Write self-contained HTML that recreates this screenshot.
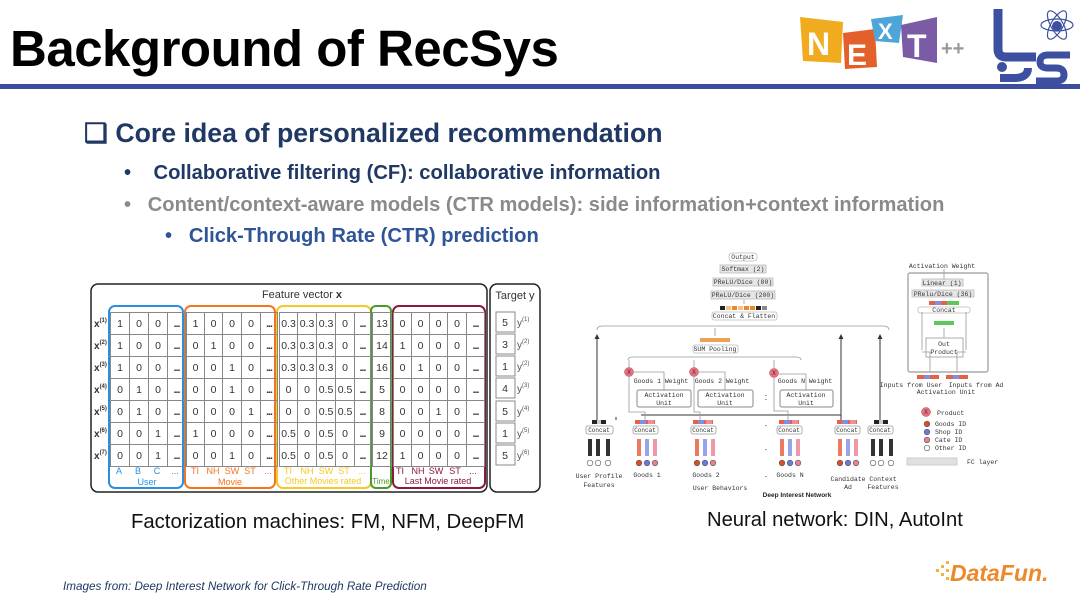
<!DOCTYPE html>
<html><head><meta charset="utf-8"><style>
*{margin:0;padding:0;box-sizing:border-box}
body{width:1080px;height:608px;background:#fff;position:relative;overflow:hidden;font-family:"Liberation Sans",sans-serif}
.a{position:absolute;white-space:nowrap}
table{position:absolute;left:110px;top:312px;border-collapse:collapse}
td{height:22px;font-size:10.5px;text-align:center;color:#333;border:1px solid #888;padding:0;line-height:20px}
td.g{border:none}
.d{font-weight:bold;letter-spacing:-1px}
</style></head><body>
<div class="a" style="left:10px;top:19px;font-size:51px;font-weight:bold;color:#000;letter-spacing:-0.5px">Background of RecSys</div>
<div class="a" style="left:0;top:84px;width:1080px;height:5px;background:#3b4d9c"></div>

<!-- NEXT logo -->
<svg class="a" style="left:795px;top:5px" width="285" height="80">
<polygon points="5,12 48,17 46,58 8,56" fill="#f0ac1e"/>
<text x="12" y="50" font-size="32" font-weight="bold" fill="#fff" font-family="Liberation Sans">N</text>
<polygon points="48,28 80,24 82,62 50,64" fill="#e4602a"/>
<text x="52" y="60" font-size="30" font-weight="bold" fill="#fff" font-family="Liberation Sans">E</text>
<polygon points="76,14 108,10 104,38 80,36" fill="#4ea6d8"/>
<text x="83" y="34" font-size="22" font-weight="bold" fill="#fff" font-family="Liberation Sans">X</text>
<polygon points="106,20 142,12 142,58 108,52" fill="#7b5ba6"/>
<text x="112" y="52" font-size="32" font-weight="bold" fill="#fff" font-family="Liberation Sans">T</text>
<text x="146" y="50" font-size="20" font-weight="bold" fill="#999" font-family="Liberation Sans">++</text>
<path d="M203 4 v40 q0 8 8 8 h30" stroke="#3c4fa0" stroke-width="9" fill="none"/>
<circle cx="207" cy="62" r="5" fill="#3c4fa0"/>
<path d="M205 73 h14 q14 0 14 -10" stroke="#3c4fa0" stroke-width="8" fill="none"/>
<path d="M275 50 h-22 q-8 0 -8 7 q0 6 8 6 h8 q8 0 8 7 q0 6 -8 6 h-20" stroke="#3c4fa0" stroke-width="7" fill="none"/>
<ellipse cx="262" cy="20" rx="16" ry="6" stroke="#3c4fa0" fill="none" stroke-width="1.2"/>
<ellipse cx="262" cy="20" rx="16" ry="6" stroke="#3c4fa0" fill="none" stroke-width="1.2" transform="rotate(60 262 20)"/>
<ellipse cx="262" cy="20" rx="16" ry="6" stroke="#3c4fa0" fill="none" stroke-width="1.2" transform="rotate(-60 262 20)"/>
<circle cx="262" cy="21" r="5" fill="#3c4fa0"/>
</svg>

<div class="a" style="left:84px;top:118px;font-size:26.7px;font-weight:bold;color:#203864">❑ Core idea of personalized recommendation</div>
<div class="a" style="left:124px;top:162px;font-size:20.2px;font-weight:bold;color:#203864">•&nbsp;&nbsp;&nbsp;&nbsp;Collaborative filtering (CF): collaborative information</div>
<div class="a" style="left:124px;top:194px;font-size:20.1px;font-weight:bold;color:#8a8a8a">•&nbsp;&nbsp;&nbsp;Content/context-aware models (CTR models): side information+context information</div>
<div class="a" style="left:165px;top:225px;font-size:20.2px;font-weight:bold;color:#2f5597">•&nbsp;&nbsp;&nbsp;Click-Through Rate (CTR) prediction</div>

<!-- FM table -->
<svg class="a" style="left:0;top:0" width="560" height="500">
<rect x="91" y="284" width="396" height="208" rx="7" fill="none" stroke="#222" stroke-width="1.5"/>
<rect x="490" y="284" width="50" height="208" rx="7" fill="none" stroke="#222" stroke-width="1.5"/>
<rect x="109" y="306" width="74" height="182" rx="6" fill="none" stroke="#2a8fe0" stroke-width="2"/>
<rect x="185" y="306" width="90" height="182" rx="6" fill="none" stroke="#f5741e" stroke-width="2"/>
<rect x="277" y="306" width="94" height="182" rx="6" fill="none" stroke="#f7c924" stroke-width="2"/>
<rect x="371" y="306" width="20" height="182" rx="5" fill="none" stroke="#4a9a2a" stroke-width="2"/>
<rect x="393" y="306" width="92" height="182" rx="6" fill="none" stroke="#8a1a3a" stroke-width="2"/>
<text x="302" y="298" font-size="11" text-anchor="middle" fill="#333" font-family="Liberation Sans">Feature vector <tspan font-weight="bold">x</tspan></text>
<text x="515" y="299" font-size="11" text-anchor="middle" fill="#333" font-family="Liberation Sans">Target y</text>
<g font-size="10" font-weight="bold" fill="#333" font-family="Liberation Sans">
<text x="94" y="327">x<tspan font-size="6" dy="-5">(1)</tspan></text>
<text x="94" y="349">x<tspan font-size="6" dy="-5">(2)</tspan></text>
<text x="94" y="371">x<tspan font-size="6" dy="-5">(3)</tspan></text>
<text x="94" y="393">x<tspan font-size="6" dy="-5">(4)</tspan></text>
<text x="94" y="415">x<tspan font-size="6" dy="-5">(5)</tspan></text>
<text x="94" y="437">x<tspan font-size="6" dy="-5">(6)</tspan></text>
<text x="94" y="459">x<tspan font-size="6" dy="-5">(7)</tspan></text>
</g>
<g font-size="10.5" fill="#333" font-family="Liberation Sans" text-anchor="middle">
<rect x="496" y="312" width="19" height="20" fill="none" stroke="#888"/><text x="505" y="326">5</text>
<rect x="496" y="334" width="19" height="20" fill="none" stroke="#888"/><text x="505" y="348">3</text>
<rect x="496" y="356" width="19" height="20" fill="none" stroke="#888"/><text x="505" y="370">1</text>
<rect x="496" y="378" width="19" height="20" fill="none" stroke="#888"/><text x="505" y="392">4</text>
<rect x="496" y="401" width="19" height="20" fill="none" stroke="#888"/><text x="505" y="415">5</text>
<rect x="496" y="423" width="19" height="20" fill="none" stroke="#888"/><text x="505" y="437">1</text>
<rect x="496" y="445" width="19" height="20" fill="none" stroke="#888"/><text x="505" y="459">5</text>
</g>
<g font-size="10" fill="#555" font-family="Liberation Sans">
<text x="517" y="326">y<tspan font-size="6" dy="-5">(1)</tspan></text>
<text x="517" y="348">y<tspan font-size="6" dy="-5">(2)</tspan></text>
<text x="517" y="370">y<tspan font-size="6" dy="-5">(2)</tspan></text>
<text x="517" y="392">y<tspan font-size="6" dy="-5">(3)</tspan></text>
<text x="517" y="415">y<tspan font-size="6" dy="-5">(4)</tspan></text>
<text x="517" y="437">y<tspan font-size="6" dy="-5">(5)</tspan></text>
<text x="517" y="459">y<tspan font-size="6" dy="-5">(6)</tspan></text>
</g>
<g font-size="9" font-family="Liberation Sans" text-anchor="middle">
<g fill="#2a8fe0"><text x="119" y="474">A</text><text x="138" y="474">B</text><text x="157" y="474">C</text><text x="175" y="474">...</text><text x="147" y="485">User</text></g>
<g fill="#f5741e"><text x="195" y="474">TI</text><text x="213" y="474">NH</text><text x="232" y="474">SW</text><text x="250" y="474">ST</text><text x="268" y="474">...</text><text x="230" y="485">Movie</text></g>
<g fill="#f7c924"><text x="288" y="474">TI</text><text x="307" y="474">NH</text><text x="326" y="474">SW</text><text x="344" y="474">ST</text><text x="362" y="474">...</text><text x="323" y="484">Other Movies rated</text></g>
<g fill="#4a9a2a"><text x="381" y="484" font-size="8">Time</text></g>
<g fill="#8a1a3a"><text x="400" y="474">TI</text><text x="418" y="474">NH</text><text x="436" y="474">SW</text><text x="455" y="474">ST</text><text x="473" y="474">...</text><text x="438" y="484">Last Movie rated</text></g>
</g>
</svg>
<table>
<colgroup><col width="19"><col width="19"><col width="19"><col width="18"><col width="1"><col width="18"><col width="18"><col width="19"><col width="19"><col width="17"><col width="2"><col width="18"><col width="19"><col width="19"><col width="19"><col width="16"><col width="2"><col width="19"><col width="2"><col width="18"><col width="18"><col width="18"><col width="19"><col width="18"></colgroup>
<tr><td>1</td><td>0</td><td>0</td><td class="d">...</td><td class="g"></td><td>1</td><td>0</td><td>0</td><td>0</td><td class="d">...</td><td class="g"></td><td>0.3</td><td>0.3</td><td>0.3</td><td>0</td><td class="d">...</td><td class="g"></td><td>13</td><td class="g"></td><td>0</td><td>0</td><td>0</td><td>0</td><td class="d">...</td></tr>
<tr><td>1</td><td>0</td><td>0</td><td class="d">...</td><td class="g"></td><td>0</td><td>1</td><td>0</td><td>0</td><td class="d">...</td><td class="g"></td><td>0.3</td><td>0.3</td><td>0.3</td><td>0</td><td class="d">...</td><td class="g"></td><td>14</td><td class="g"></td><td>1</td><td>0</td><td>0</td><td>0</td><td class="d">...</td></tr>
<tr><td>1</td><td>0</td><td>0</td><td class="d">...</td><td class="g"></td><td>0</td><td>0</td><td>1</td><td>0</td><td class="d">...</td><td class="g"></td><td>0.3</td><td>0.3</td><td>0.3</td><td>0</td><td class="d">...</td><td class="g"></td><td>16</td><td class="g"></td><td>0</td><td>1</td><td>0</td><td>0</td><td class="d">...</td></tr>
<tr><td>0</td><td>1</td><td>0</td><td class="d">...</td><td class="g"></td><td>0</td><td>0</td><td>1</td><td>0</td><td class="d">...</td><td class="g"></td><td>0</td><td>0</td><td>0.5</td><td>0.5</td><td class="d">...</td><td class="g"></td><td>5</td><td class="g"></td><td>0</td><td>0</td><td>0</td><td>0</td><td class="d">...</td></tr>
<tr><td>0</td><td>1</td><td>0</td><td class="d">...</td><td class="g"></td><td>0</td><td>0</td><td>0</td><td>1</td><td class="d">...</td><td class="g"></td><td>0</td><td>0</td><td>0.5</td><td>0.5</td><td class="d">...</td><td class="g"></td><td>8</td><td class="g"></td><td>0</td><td>0</td><td>1</td><td>0</td><td class="d">...</td></tr>
<tr><td>0</td><td>0</td><td>1</td><td class="d">...</td><td class="g"></td><td>1</td><td>0</td><td>0</td><td>0</td><td class="d">...</td><td class="g"></td><td>0.5</td><td>0</td><td>0.5</td><td>0</td><td class="d">...</td><td class="g"></td><td>9</td><td class="g"></td><td>0</td><td>0</td><td>0</td><td>0</td><td class="d">...</td></tr>
<tr><td>0</td><td>0</td><td>1</td><td class="d">...</td><td class="g"></td><td>0</td><td>0</td><td>1</td><td>0</td><td class="d">...</td><td class="g"></td><td>0.5</td><td>0</td><td>0.5</td><td>0</td><td class="d">...</td><td class="g"></td><td>12</td><td class="g"></td><td>1</td><td>0</td><td>0</td><td>0</td><td class="d">...</td></tr>
</table>

<!-- DIN -->
<svg class="a" style="left:0;top:0" width="1080" height="608" font-family="Liberation Mono,monospace">
<g fill="#e6e6e6" stroke="#bbb" stroke-width="0.8">
<rect x="729" y="253" width="28" height="8" rx="3" fill="#fff"/>
<rect x="720" y="265" width="46" height="8"/>
<rect x="713" y="278" width="60" height="8"/>
<rect x="711" y="291" width="64" height="8"/>
<rect x="712" y="312" width="65" height="8" rx="2" fill="#fff"/>
<rect x="693" y="345" width="45" height="8" rx="2" fill="#fff"/>
</g>
<g font-size="6.5" fill="#333" text-anchor="middle">
<text x="743" y="259">Output</text><text x="743" y="271">Softmax (2)</text><text x="743" y="284">PReLU/Dice (80)</text><text x="743" y="297">PReLU/Dice (200)</text><text x="744" y="318">Concat &amp; Flatten</text><text x="715" y="351">SUM Pooling</text>
</g>
<g><rect x="720" y="306" width="5" height="4" fill="#222"/><rect x="726" y="306" width="5" height="4" fill="#f4c08a"/><rect x="732" y="306" width="5" height="4" fill="#e88a2a"/><rect x="738" y="306" width="5" height="4" fill="#f4c08a"/><rect x="744" y="306" width="5" height="4" fill="#e88a2a"/><rect x="750" y="306" width="5" height="4" fill="#e88a2a"/><rect x="756" y="306" width="5" height="4" fill="#222"/><rect x="762" y="306" width="5" height="4" fill="#888"/>
<rect x="700" y="338" width="30" height="4" fill="#e88a2a" opacity="0.8"/></g>
<g stroke="#999" fill="none" stroke-width="0.8">
<path d="M597 330 q0 -4 6 -4 h280 q6 0 6 4"/>
<path d="M628 360 q0 -3 5 -3 h163 q5 0 5 3"/>
<path d="M715 336 v-8"/><path d="M744 304 v-4"/>
</g>
<g stroke="#333" stroke-width="1" fill="none">
<path d="M597 420 v-82"/><path d="M841 420 v-82"/><path d="M880 420 v-82"/>
<path d="M641 415 h200"/><path d="M616 420 v-3"/>
</g>
<g fill="#333"><path d="M594.5 339 l2.5 -5 l2.5 5z"/><path d="M838.5 339 l2.5 -5 l2.5 5z"/><path d="M877.5 339 l2.5 -5 l2.5 5z"/></g>
<g stroke="#999" stroke-width="0.8" fill="none">
<path d="M629 367 v-7"/><path d="M694 367 v-7"/><path d="M774 368 v-8"/>
<path d="M629 377 v35 h16 v8"/><path d="M694 377 v35 h6 v8"/><path d="M774 378 v33 h14 v9"/>
<path d="M664 407 v-8"/><path d="M725 407 v-8"/><path d="M806 407 v-8"/>
<path d="M664 390 v-18 h-30"/><path d="M725 390 v-18 h-26"/><path d="M806 390 v-16 h-27"/>
</g>
<g fill="#e87080" stroke="#c04050" stroke-width="0.5">
<circle cx="629" cy="372" r="4.5"/><circle cx="694" cy="372" r="4.5"/><circle cx="774" cy="373" r="4.5"/>
<circle cx="926" cy="412" r="4.5"/></g>
<g font-size="6" fill="#333" text-anchor="middle"><text x="629" y="374">X</text><text x="694" y="374">X</text><text x="774" y="375">X</text><text x="926" y="414">X</text></g>
<g fill="#fff" stroke="#888" stroke-width="1">
<rect x="637" y="390" width="54" height="17" rx="2"/><rect x="698" y="390" width="55" height="17" rx="2"/><rect x="780" y="390" width="53" height="17" rx="2"/>
</g>
<g font-size="6.5" fill="#333" text-anchor="middle">
<text x="661" y="383">Goods 1 Weight</text><text x="722" y="383">Goods 2 Weight</text><text x="805" y="383">Goods N Weight</text>
<text x="664" y="397">Activation</text><text x="664" y="405">Unit</text>
<text x="725" y="397">Activation</text><text x="725" y="405">Unit</text>
<text x="806" y="397">Activation</text><text x="806" y="405">Unit</text>
<text x="766" y="401">-</text><text x="766" y="397">-</text>
</g>
<g fill="#fff" stroke="#999" stroke-width="0.8">
<rect x="586" y="426" width="27" height="8" rx="2"/><rect x="633" y="426" width="25" height="8" rx="2"/><rect x="691" y="426" width="25" height="8" rx="2"/><rect x="777" y="426" width="25" height="8" rx="2"/><rect x="835" y="426" width="25" height="8" rx="2"/><rect x="868" y="426" width="25" height="8" rx="2"/>
</g>
<g font-size="6" fill="#333" text-anchor="middle">
<text x="599" y="432">Concat</text><text x="645" y="432">Concat</text><text x="703" y="432">Concat</text><text x="789" y="432">Concat</text><text x="847" y="432">Concat</text><text x="880" y="432">Concat</text>
</g>
<g>
<rect x="592" y="420" width="14" height="4" fill="#222"/><rect x="597" y="420" width="4" height="4" fill="#ccc"/>
<rect x="635" y="420" width="20" height="4" fill="#e6604a"/><rect x="640" y="420" width="6" height="4" fill="#8090e0"/><rect x="648" y="420" width="6" height="4" fill="#e890a0"/>
<rect x="693" y="420" width="20" height="4" fill="#e6604a"/><rect x="698" y="420" width="6" height="4" fill="#8090e0"/><rect x="706" y="420" width="6" height="4" fill="#e890a0"/>
<rect x="779" y="420" width="20" height="4" fill="#e6604a"/><rect x="784" y="420" width="6" height="4" fill="#8090e0"/><rect x="792" y="420" width="6" height="4" fill="#e890a0"/>
<rect x="837" y="420" width="20" height="4" fill="#e6604a"/><rect x="842" y="420" width="6" height="4" fill="#8090e0"/><rect x="850" y="420" width="6" height="4" fill="#e890a0"/>
<rect x="874" y="420" width="14" height="4" fill="#222"/><rect x="879" y="420" width="4" height="4" fill="#ccc"/>
</g>
<g>
<rect x="588" y="439" width="4" height="17" fill="#333"/><rect x="596" y="439" width="4" height="17" fill="#333"/><rect x="606" y="439" width="4" height="17" fill="#333"/>
<rect x="637" y="439" width="4" height="17" fill="#ec7a60"/><rect x="645" y="439" width="4" height="17" fill="#98a4ea"/><rect x="653" y="439" width="4" height="17" fill="#ee98a8"/>
<rect x="695" y="439" width="4" height="17" fill="#ec7a60"/><rect x="703" y="439" width="4" height="17" fill="#98a4ea"/><rect x="711" y="439" width="4" height="17" fill="#ee98a8"/>
<rect x="780" y="439" width="4" height="17" fill="#ec7a60"/><rect x="788" y="439" width="4" height="17" fill="#98a4ea"/><rect x="796" y="439" width="4" height="17" fill="#ee98a8"/>
<rect x="838" y="439" width="4" height="17" fill="#ec7a60"/><rect x="846" y="439" width="4" height="17" fill="#98a4ea"/><rect x="854" y="439" width="4" height="17" fill="#ee98a8"/>
<rect x="871" y="439" width="4" height="17" fill="#333"/><rect x="879" y="439" width="4" height="17" fill="#333"/><rect x="889" y="439" width="4" height="17" fill="#333"/>
</g>
<g stroke="#555" stroke-width="0.6">
<circle cx="590" cy="463" r="2.8" fill="#fff"/><circle cx="598" cy="463" r="2.8" fill="#fff"/><circle cx="608" cy="463" r="2.8" fill="#fff"/>
<circle cx="639" cy="463" r="2.8" fill="#e24a2a"/><circle cx="647" cy="463" r="2.8" fill="#6a7ae0"/><circle cx="655" cy="463" r="2.8" fill="#e8809a"/>
<circle cx="697" cy="463" r="2.8" fill="#e24a2a"/><circle cx="705" cy="463" r="2.8" fill="#6a7ae0"/><circle cx="713" cy="463" r="2.8" fill="#e8809a"/>
<circle cx="782" cy="463" r="2.8" fill="#e24a2a"/><circle cx="790" cy="463" r="2.8" fill="#6a7ae0"/><circle cx="798" cy="463" r="2.8" fill="#e8809a"/>
<circle cx="840" cy="463" r="2.8" fill="#e24a2a"/><circle cx="848" cy="463" r="2.8" fill="#6a7ae0"/><circle cx="856" cy="463" r="2.8" fill="#e8809a"/>
<circle cx="873" cy="463" r="2.8" fill="#fff"/><circle cx="881" cy="463" r="2.8" fill="#fff"/><circle cx="891" cy="463" r="2.8" fill="#fff"/>
</g>
<g font-size="6.5" fill="#333" text-anchor="middle">
<text x="599" y="478">User Profile</text><text x="599" y="487">Features</text>
<text x="647" y="477">Goods 1</text><text x="706" y="477">Goods 2</text><text x="790" y="477">Goods N</text>
<text x="720" y="490">User Behaviors</text>
<text x="848" y="481">Candidate</text><text x="848" y="489">Ad</text>
<text x="883" y="481">Context</text><text x="883" y="489">Features</text>
<text x="766" y="478">-</text><text x="766" y="451">-</text><text x="766" y="427">-</text>
</g>
<text x="797" y="497" font-size="6.5" font-weight="bold" fill="#222" text-anchor="middle" font-family="Liberation Sans">Deep Interest Network</text>
<rect x="908" y="273" width="80" height="99" rx="2" fill="none" stroke="#999" stroke-width="1.2"/>
<g fill="#e6e6e6" stroke="#bbb" stroke-width="0.8"><rect x="922" y="279" width="41" height="7"/><rect x="912" y="290" width="62" height="7"/>
<rect x="918" y="307" width="52" height="6" rx="2" fill="#fff"/><rect x="926" y="338" width="37" height="19" fill="#fff" stroke="#999"/></g>
<rect x="929" y="301" width="30" height="4" fill="#e6604a"/><rect x="935" y="301" width="6" height="4" fill="#8090e0"/><rect x="947" y="301" width="12" height="4" fill="#5ac85a"/>
<rect x="934" y="321" width="20" height="4" fill="#5ac85a"/>
<rect x="917" y="375" width="22" height="4" fill="#e6604a"/><rect x="924" y="375" width="6" height="4" fill="#8090e0"/>
<rect x="946" y="375" width="22" height="4" fill="#e6604a"/><rect x="953" y="375" width="6" height="4" fill="#8090e0"/>
<g stroke="#999" fill="none" stroke-width="0.8"><path d="M922 350 v-38"/><path d="M966 350 v-38"/><path d="M944 338 v-10"/><path d="M930 372 v-20 h-8"/><path d="M957 372 v-20 h9"/><path d="M944 279 v-10"/></g>
<g font-size="6.5" fill="#333" text-anchor="middle">
<text x="942" y="268">Activation Weight</text><text x="942" y="285">Linear (1)</text><text x="943" y="296">PRelu/Dice (36)</text><text x="944" y="312">Concat</text>
<text x="944" y="346">Out</text><text x="944" y="354">Product</text>
<text x="911" y="387">Inputs from User</text><text x="976" y="387">Inputs from Ad</text><text x="946" y="394">Activation Unit</text>
</g>
<g stroke="#555" stroke-width="0.6"><circle cx="927" cy="424" r="2.8" fill="#e24a2a"/><circle cx="927" cy="432" r="2.8" fill="#6a7ae0"/><circle cx="927" cy="440" r="2.8" fill="#e8809a"/><circle cx="927" cy="448" r="2.8" fill="#fff"/></g>
<rect x="907" y="458" width="50" height="7" fill="#e0e0e0" stroke="#ccc"/>
<g font-size="6.5" fill="#333"><text x="937" y="415">Product</text><text x="935" y="426">Goods ID</text><text x="935" y="434">Shop ID</text><text x="935" y="442">Cate ID</text><text x="935" y="450">Other ID</text><text x="967" y="464">FC layer</text></g>
</svg>

<div class="a" style="left:131px;top:511px;font-size:20.3px;color:#111">Factorization machines: FM, NFM, DeepFM</div>
<div class="a" style="left:707px;top:509px;font-size:20.2px;color:#111">Neural network: DIN, AutoInt</div>
<div class="a" style="left:63px;top:580px;font-size:11.7px;font-style:italic;color:#1f3864">Images from: Deep Interest Network for Click-Through Rate Prediction</div>

<svg class="a" style="left:930px;top:555px" width="150" height="35">
<g fill="#f2b33a"><rect x="6" y="14" width="3" height="3"/><rect x="11" y="10" width="3" height="3"/><rect x="11" y="18" width="3" height="3"/><rect x="16" y="14" width="3" height="3"/><rect x="16" y="6" width="3" height="3"/><rect x="16" y="22" width="3" height="3"/></g>
<text x="20" y="26" font-size="23" font-weight="bold" font-style="italic" fill="#ec8a2a" font-family="Liberation Sans">DataFun.</text>
</svg>
</body></html>
